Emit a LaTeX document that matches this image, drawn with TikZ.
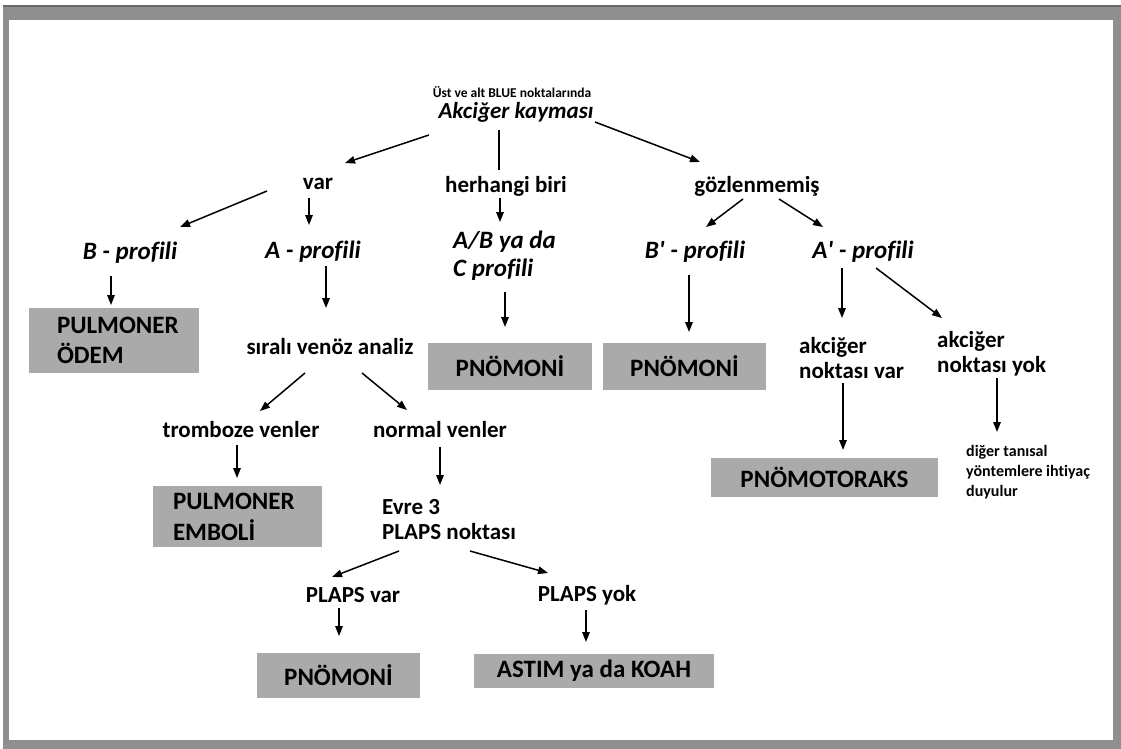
\documentclass[tikz,border=0pt]{standalone}
\usepackage{fontspec}
\setmainfont{Carlito}[Ligatures=NoCommon]
\usetikzlibrary{arrows.meta}
\definecolor{framegray}{RGB}{143,143,143}
\definecolor{framedark}{RGB}{105,105,105}
\definecolor{boxgray}{RGB}{170,170,170}
\begin{document}
\begin{tikzpicture}[x=1pt,y=-1pt,
  lbl/.style={font=\bfseries\fontsize{23}{25}\selectfont, inner sep=0pt, align=left},
  prof/.style={font=\bfseries\itshape\fontsize{25}{28}\selectfont, inner sep=0pt, align=left},
  small/.style={font=\bfseries\fontsize{13.5}{19}\selectfont, inner sep=0pt, align=left},
  resbox/.style={fill=boxgray, inner sep=0pt, font=\bfseries\fontsize{25}{30}\selectfont},
  arr/.style={line width=1.5pt, -{Triangle[length=10pt,width=7.5pt]}},
  plain/.style={line width=1.5pt}]
% frame
\useasboundingbox (0,0) rectangle (1121,749);
\fill[white] (0,0) rectangle (1121,749);
\fill[framegray] (3,5) rectangle (1121,749);
\fill[framedark] (3,5) rectangle (1121,7);
\fill[white] (9,20) rectangle (1113,740);

% nodes
\node[small] (ust) at (512,92) {Üst ve alt BLUE noktalarında};
\node[prof, font=\bfseries\itshape\fontsize{23}{26}\selectfont] (akc) at (516,112) {Akciğer kayması};
\node[lbl] (var) at (318,184) {var};
\node[lbl] (her) at (506,186) {herhangi biri};
\node[lbl] (goz) at (757,186) {gözlenmemiş};
\node[prof] (bprof) at (130,253) {B - profili};
\node[prof] (aprof) at (313,252) {A - profili};
\node[prof, anchor=west] (abc) at (453,256) {A/B ya da\\C profili};
\node[prof] (bpr) at (695,252) {B\textquotesingle{} - profili};
\node[prof] (apr) at (863,252) {A\textquotesingle{} - profili};
\node[resbox, minimum width=170pt, minimum height=65pt, text width=114pt, inner xsep=28pt, align=left] (ode) at (114,340.5) {PULMONER\\ÖDEM};
\node[lbl] (sir) at (330,347) {sıralı venöz analiz};
\node[resbox, minimum width=164pt, minimum height=47pt] (pn1) at (510,366.5) {PNÖMONİ};
\node[resbox, minimum width=163pt, minimum height=47pt] (pn2) at (684.5,366.5) {PNÖMONİ};
\node[lbl, anchor=west] (akvar) at (799,358) {akciğer\\noktası var};
\node[lbl, anchor=west] (akyok) at (937,354) {akciğer\\noktası yok};
\node[lbl] (trom) at (241,430) {tromboze venler};
\node[lbl] (norm) at (440,430) {normal venler};
\node[resbox, minimum width=169pt, minimum height=61pt, text width=129pt, inner xsep=20pt, align=left, font=\bfseries\fontsize{25}{31}\selectfont] (emb) at (237.5,516.5) {PULMONER\\EMBOLİ};
\node[lbl, anchor=west] (evre) at (382,520) {Evre 3\\PLAPS noktası};
\node[resbox, minimum width=227pt, minimum height=39pt] (ptx) at (824.5,477.5) {PNÖMOTORAKS};
\node[anchor=west, inner sep=0pt, align=left, font=\bfseries\fontsize{16}{20}\selectfont] (dig) at (966,472) {diğer tanısal\\yöntemlere ihtiyaç\\duyulur};
\node[lbl] (pvar) at (353,595) {PLAPS var};
\node[lbl] (pyok) at (587,595) {PLAPS yok};
\node[resbox, minimum width=163pt, minimum height=45pt] (pn3) at (338.5,675.5) {PNÖMONİ};
\node[resbox, minimum width=240pt, minimum height=34pt] (ast) at (594,671) {ASTIM ya da KOAH};

% connectors
\draw[arr] ([shift={(-87,23)}]akc.center) -- ([shift={(27,-21)}]var.center);
\draw[plain] ([shift={(-17,18)}]akc.center) -- ([shift={(-7,-16)}]her.center);
\draw[arr] ([shift={(79,10)}]akc.center) -- ([shift={(-57,-24)}]goz.center);
\draw[arr] ([shift={(-51,7)}]var.center) -- ([shift={(50,-26)}]bprof.center);
\draw[arr] ([shift={(-9,14)}]var.center) -- ([shift={(-4,-27)}]aprof.center);
\draw[arr] ([shift={(-6,12)}]her.center) -- ([shift={(47,-34)}]abc.west);
\draw[arr] ([shift={(-14,13)}]goz.center) -- ([shift={(11,-25)}]bpr.center);
\draw[arr] ([shift={(22,13)}]goz.center) -- ([shift={(-40,-25)}]apr.center);
\draw[arr] ([shift={(-19,23)}]bprof.center) -- ([shift={(-3,-35.5)}]ode.center);
\draw[arr] ([shift={(13,14)}]aprof.center) -- ([shift={(-4,-39)}]sir.center);
\draw[arr] ([shift={(52,36)}]abc.west) -- ([shift={(-5,-39.5)}]pn1.center);
\draw[arr] ([shift={(-6,23)}]bpr.center) -- ([shift={(4.5,-34.5)}]pn2.center);
\draw[arr] ([shift={(-21,16)}]apr.center) -- ([shift={(43,-40)}]akvar.west);
\draw[arr] ([shift={(13,16)}]apr.center) -- ([shift={(5,-36)}]akyok.west);
\draw[arr] ([shift={(44,25)}]akvar.west) -- ([shift={(18.5,-27.5)}]ptx.center);
\draw[arr] ([shift={(60,24)}]akyok.west) -- ([shift={(31,-40)}]dig.west);
\draw[arr] ([shift={(-25,26)}]sir.center) -- ([shift={(19,-19)}]trom.center);
\draw[arr] ([shift={(32,26)}]sir.center) -- ([shift={(-33,-20)}]norm.center);
\draw[arr] ([shift={(-4,15)}]trom.center) -- ([shift={(-0.5,-38.5)}]emb.center);
\draw[arr] ([shift={(0,17)}]norm.center) -- ([shift={(58,-35)}]evre.west);
\draw[arr] ([shift={(17,31)}]evre.west) -- ([shift={(-21,-18)}]pvar.center);
\draw[arr] ([shift={(88,31)}]evre.west) -- ([shift={(-39,-22)}]pyok.center);
\draw[arr] ([shift={(-14,13)}]pvar.center) -- ([shift={(0.5,-39.5)}]pn3.center);
\draw[arr] ([shift={(-1,15)}]pyok.center) -- ([shift={(-8,-29)}]ast.center);
\end{tikzpicture}
\end{document}
